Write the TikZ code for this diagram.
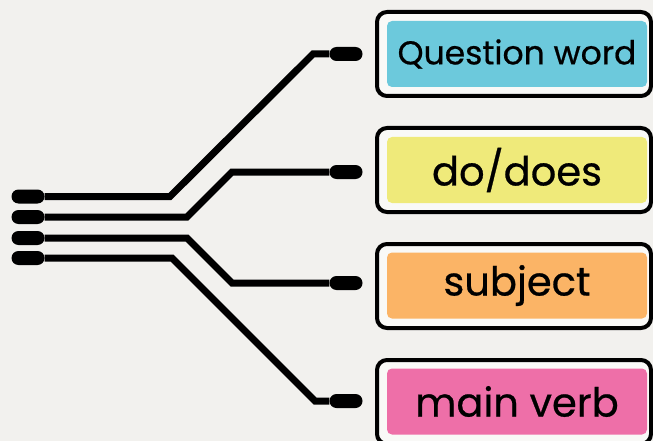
\documentclass[tikz,border=0pt]{standalone}
\usepackage{fontspec}
\setmainfont{Poppins}[FakeBold=0.6]
\usetikzlibrary{positioning}
\definecolor{Paper}{HTML}{F2F1EE}
\colorlet{Frame}{white!55!Paper}
\definecolor{Question}{HTML}{6CC9DC}
\definecolor{Auxiliary}{HTML}{EFEA7A}
\definecolor{Subject}{HTML}{FBB466}
\definecolor{Verb}{HTML}{EE6FA8}

\begin{document}
\begin{tikzpicture}[x=1pt, y=-1pt,
    pin/.style={fill=black, rounded corners=7pt, minimum width=33pt, minimum height=14pt, inner sep=0pt},
    wire/.style={line width=7pt},
    frame/.style={draw, line width=4pt, rounded corners=10pt, fill=Frame, minimum width=274pt, minimum height=84pt},
    tag/.style={rounded corners=5pt, minimum width=260pt, minimum height=66pt, inner sep=0pt, font={\fontsize{40}{44}\selectfont}},
    smalltag/.style={tag, font={\fontsize{33}{38}\selectfont}}
    ]

    \fill[Paper] (0,0) rectangle (653,441);
    \useasboundingbox (0,0) rectangle (653,441);

    \node [frame] (frame1) at (514,54) {};
    \node [frame] (frame2) at (514,170) {};
    \node [frame] (frame3) at (514,286) {};
    \node [frame] (frame4) at (514,402) {};

    \node [smalltag, fill=Question] (question) at (517,54) {Question word};
    \node [tag, fill=Auxiliary] (dodoes) at (517,170) {do/does};
    \node [tag, fill=Subject] (subject) at (517,285.5) {subject};
    \node [tag, fill=Verb] (verb) at (517,401.5) {main verb};

    \node [pin] (pin1) at (28,196.5) {};
    \node [pin] (pin2) at (28,217) {};
    \node [pin] (pin3) at (28,238) {};
    \node [pin] (pin4) at (28,258) {};

    \node [pin] (end1) at (346,54) {};
    \node [pin] (end2) at (346,172) {};
    \node [pin] (end3) at (346,283) {};
    \node [pin] (end4) at (346,401) {};

    \draw[wire] (pin1.east) -- (170,196.5) -- (313,54) -- (end1.west);
    \draw[wire] (pin2.east) -- (187,217) -- (232,172) -- (end2.west);
    \draw[wire] (pin3.east) -- (187,238) -- (232,283) -- (end3.west);
    \draw[wire] (pin4.east) -- (172,258) -- (315,401) -- (end4.west);
\end{tikzpicture}
\end{document}
